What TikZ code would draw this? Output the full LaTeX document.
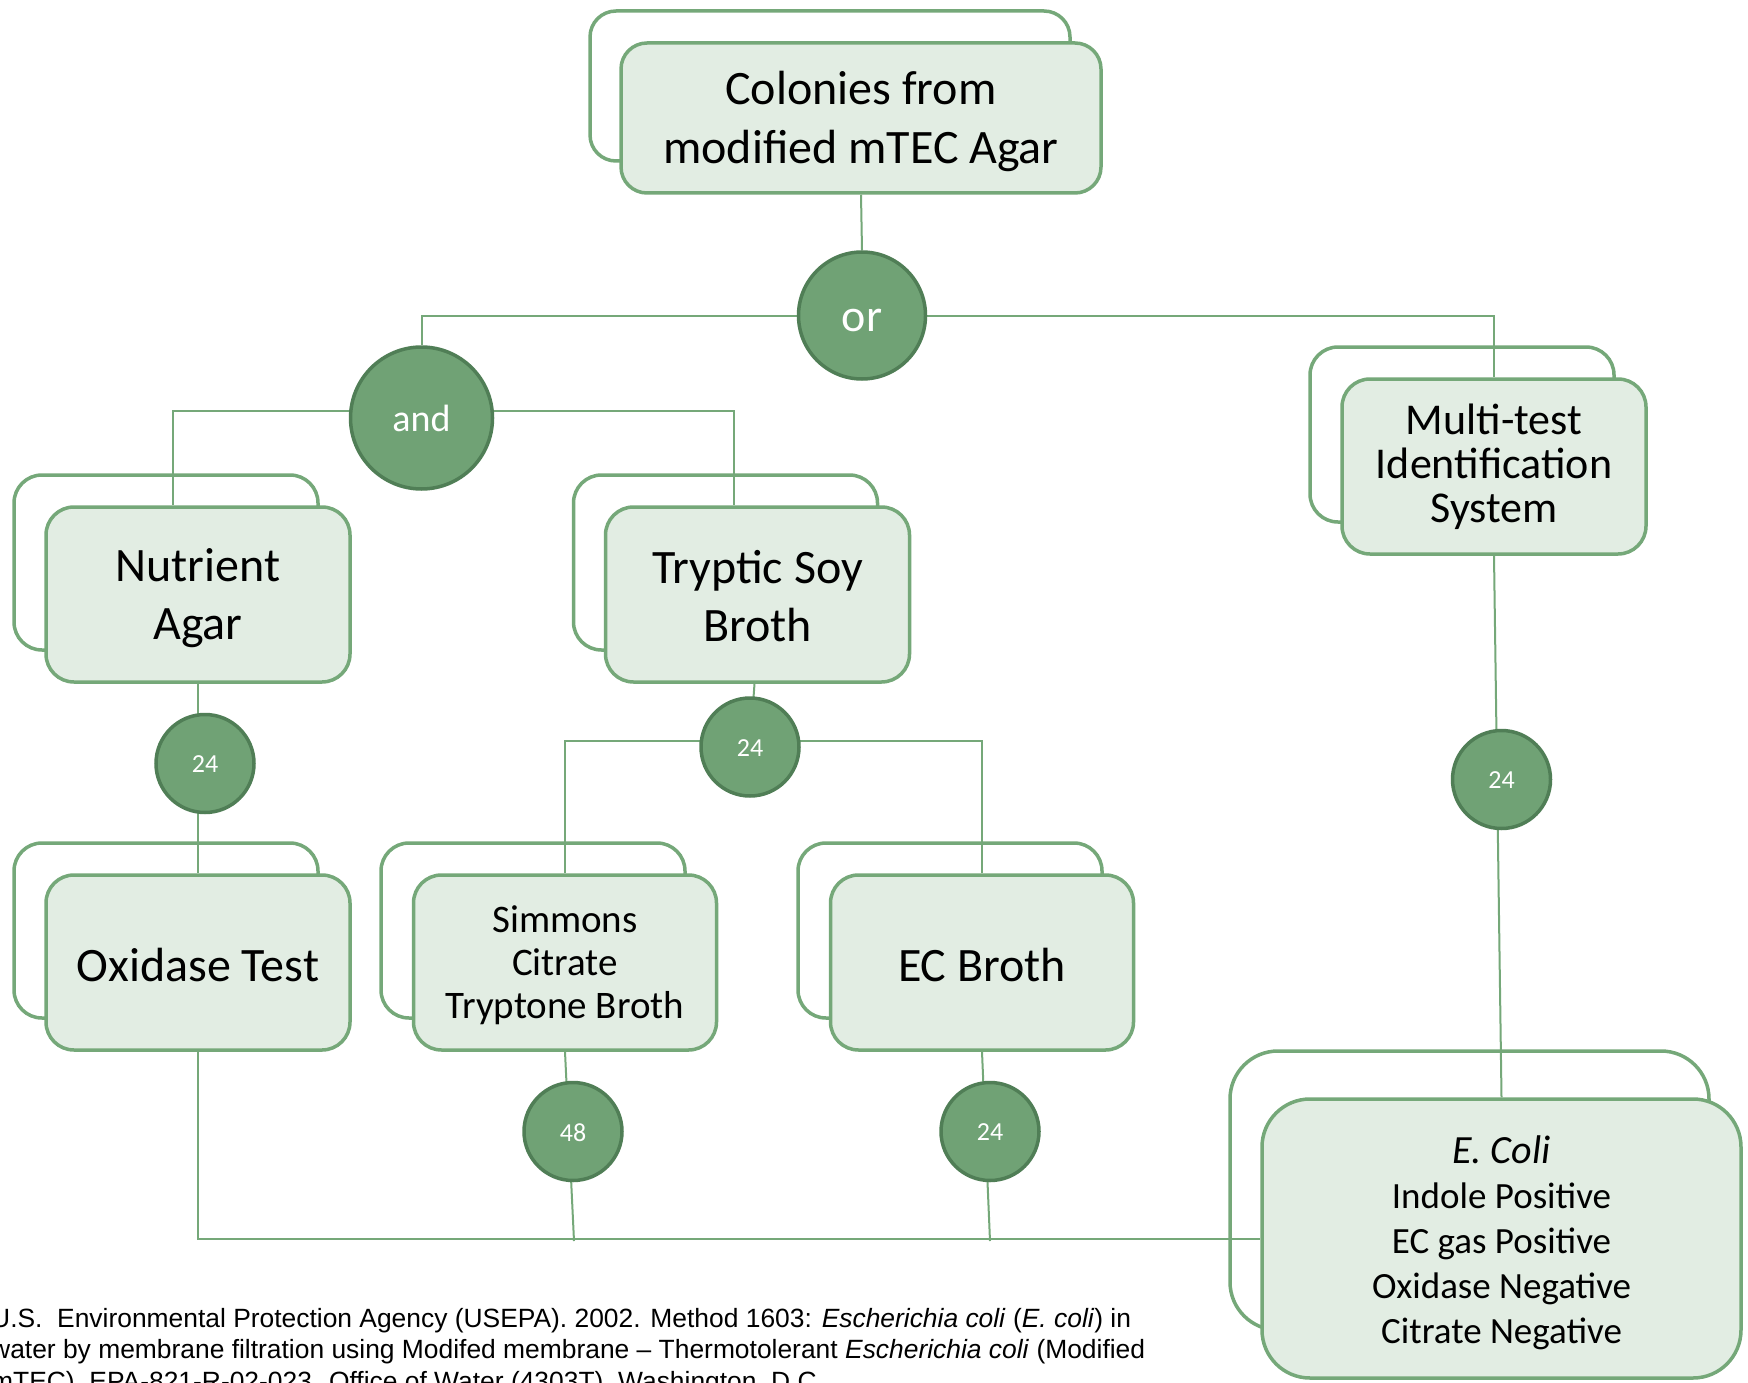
\documentclass[tikz,border=0pt]{standalone}
\usepackage{fontspec}
\setmainfont{Carlito}
\newfontfamily\citefont{Liberation Sans}
\definecolor{boxfill}{RGB}{226,237,227}
\definecolor{boxline}{RGB}{117,168,121}
\definecolor{circfill}{RGB}{112,162,117}
\definecolor{circline}{RGB}{80,126,86}
\definecolor{conn}{RGB}{117,168,121}
\pgfdeclarelayer{backs}
\pgfdeclarelayer{links}
\pgfsetlayers{backs,links,main}
\begin{document}
\begin{tikzpicture}[x=1pt,y=-1pt,
  backbox/.style={draw=boxline,line width=3.5pt,fill=white,rounded corners=#1,inner sep=0pt},
  backbox/.default=28pt,
  frontbox/.style={draw=boxline,line width=3.5pt,fill=boxfill,rounded corners=#1,inner sep=0pt},
  frontbox/.default=28pt,
  boxtext/.style={inner sep=0pt,align=center,text=black},
  midsize/.style={minimum width=304pt,minimum height=175pt},
  gate/.style={circle,draw=circline,line width=3.5pt,fill=circfill,inner sep=0pt},
  gatetext/.style={inner sep=0pt,text=white},
  hours/.style={gate,minimum size=98pt},
  hourtext/.style={gatetext,font=\fontsize{26}{30}\selectfont},
  link/.style={draw=conn,line width=2pt},
  bigtext/.style={font=\fontsize{48}{58.5}\selectfont},
]
\useasboundingbox (0,0) rectangle (1748,1383);
\clip (0,0) rectangle (1748,1383);

\begin{pgfonlayer}{backs}
\fill[white] (0,0) rectangle (1748,1383);
\node[backbox=26pt,minimum width=480pt,minimum height=150pt] (topB) at (830,86) {};
\node[backbox,midsize] (mtB) at (1462,434.5) {};
\node[backbox,midsize] (nutB) at (166,562.5) {};
\node[backbox,midsize] (tsbB) at (725.5,562.5) {};
\node[backbox,midsize] (oxB) at (166,930.5) {};
\node[backbox,midsize] (simB) at (533,930.5) {};
\node[backbox,midsize] (ecB) at (950,930.5) {};
\node[backbox=48pt,minimum width=479pt,minimum height=279pt] (ecoB) at (1469.5,1190.5) {};
\end{pgfonlayer}

% front boxes
\node[frontbox=26pt,minimum width=480pt,minimum height=150pt] (top) at (861,118) {};
\node[frontbox,midsize] (mt) at (1494,466.5) {};
\node[frontbox,midsize] (nut) at (198,594.5) {};
\node[frontbox,midsize] (tsb) at (757.5,594.5) {};
\node[frontbox,midsize] (ox) at (198,962.5) {};
\node[frontbox,midsize,minimum width=303pt] (sim) at (565,962.5) {};
\node[frontbox,midsize,minimum width=303pt] (ec) at (982,962.5) {};
\node[frontbox=48pt,minimum width=479pt,minimum height=279pt] (eco) at (1501.5,1238.5) {};

% box texts
\node[boxtext,bigtext] (topT) at (861,121.5) {Colonies from\\modified mTEC Agar};
\node[boxtext,font=\fontsize{44}{44}\selectfont] (mtT) at (1494,467) {Multi-test\\Identification\\System};
\node[boxtext,bigtext] (nutT) at (198,598) {Nutrient\\Agar};
\node[boxtext,bigtext] (tsbT) at (757.5,596) {Tryptic Soy\\Broth};
\node[boxtext,bigtext] (oxT) at (198,965) {Oxidase Test};
\node[boxtext,font=\fontsize{39}{43}\selectfont] (simT) at (565,965) {Simmons\\Citrate\\Tryptone Broth};
\node[boxtext,bigtext] (ecT) at (982,965) {EC Broth};
\node[boxtext,font=\fontsize{37}{45}\selectfont] (ecoT) at (1501.5,1243) {{\fontsize{40}{45}\selectfont\itshape E. Coli}\\Indole Positive\\EC gas Positive\\Oxidase Negative\\Citrate Negative};

% circles
\node[gate,minimum size=127pt] (or) at (862,315.5) {};
\node[gatetext,font=\fontsize{46}{50}\selectfont] (orT) at (862,320) {or};
\node[gate,minimum size=142pt] (and) at (421.5,418) {};
\node[gatetext,font=\fontsize{38}{42}\selectfont] (andT) at (421.5,418) {and};
\node[hours] (c1) at (205,763.5) {};
\node[hours] (c2) at (750,747) {};
\node[hours] (c3) at (1501.5,779.5) {};
\node[hours] (c4) at (573,1131.5) {};
\node[hours] (c5) at (990,1131.5) {};
\node[hourtext] (c1T) at (205,764.5) {24};
\node[hourtext] (c2T) at (750,748) {24};
\node[hourtext] (c3T) at (1501.5,780.5) {24};
\node[hourtext] (c4T) at (573,1132.5) {48};
\node[hourtext] (c5T) at (990,1132.5) {24};

\coordinate (e48) at (574,1241);
\coordinate (e24) at (990,1241);

% connectors
\begin{pgfonlayer}{links}
\draw[link] (top.south) -- (or.north);
\draw[link] (or.west) -| (and.north);
\draw[link] (or.east) -| (mt.north);
\draw[link] ([yshift=7pt]and.west) -| ([xshift=-25pt]nut.north);
\draw[link] ([yshift=7pt]and.east) -| ([xshift=-24pt]tsb.north);
\draw[link] (nut.south) -- (ox.north);
\draw[link] ([xshift=-3pt]tsb.south) -- (c2.center);
\draw[link] (sim.north) |- ([yshift=6pt]c2.center) -| (ec.north);
\draw[link] (ox.south) |- (eco.west);
\draw[link] (sim.south) -- (e48);
\draw[link] (ec.south) -- (e24);
\draw[link] (mt.south) -- (eco.north);
\end{pgfonlayer}

% citation
\begin{scope}[font=\citefont\fontsize{26.4}{31.5}\selectfont]
\node[anchor=base west,inner sep=0pt] (cite1) at (-9,1327) {U.S.\ \ Environmental Protection Agency (USEPA). 2002. Method 1603: \textit{Escherichia coli} (\textit{E. coli}) in};
\node[anchor=base west,inner sep=0pt] (cite2) at (-9,1358.5) {water by membrane filtration using Modifed membrane – Thermotolerant \textit{Escherichia coli} (Modified};
\node[anchor=base west,inner sep=0pt] (cite3) at (-9,1390) {mTEC). EPA-821-R-02-023. Office of Water (4303T). Washington, D.C.};
\end{scope}
\end{tikzpicture}
\end{document}
